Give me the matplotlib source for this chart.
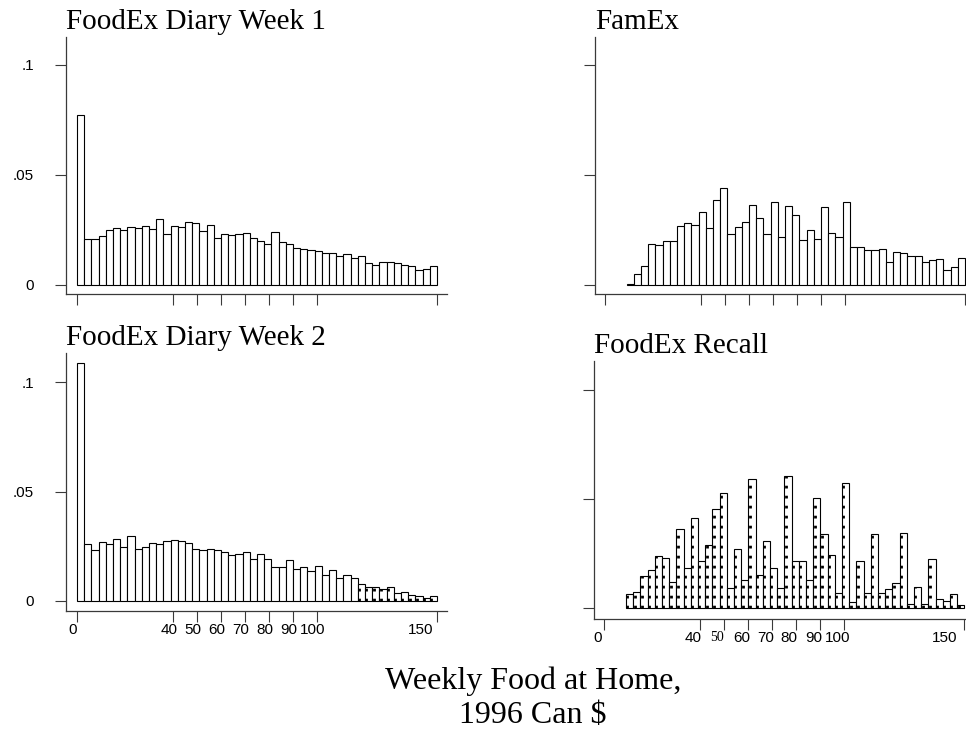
import numpy as np
import matplotlib
matplotlib.use("Agg")
import matplotlib.pyplot as plt
from matplotlib.transforms import ScaledTranslation

# bin width 3 dollars, bars up to 150
bin_width = 3
x_ticks = [0, 40, 50, 60, 70, 80, 90, 100, 150]
x_tick_labels = ["0", "40", "50", "60", "70", "80", "90", "100", "150"]
y_ticks = [0, 0.05, 0.1]
y_tick_labels = ["0", ".05", ".1"]

# FoodEx Diary Week 1 (bins start at 0)
week1_start = 0
week1 = [0.0772, 0.0208, 0.0210, 0.0222, 0.0251, 0.0258, 0.0252, 0.0263, 0.0260, 0.0270,
         0.0255, 0.0302, 0.0231, 0.0267, 0.0263, 0.0286, 0.0281, 0.0246, 0.0272, 0.0214,
         0.0231, 0.0228, 0.0231, 0.0237, 0.0213, 0.0198, 0.0187, 0.0240, 0.0195, 0.0184,
         0.0169, 0.0164, 0.0158, 0.0155, 0.0144, 0.0144, 0.0131, 0.0140, 0.0123, 0.0131,
         0.0102, 0.0093, 0.0103, 0.0106, 0.0099, 0.0093, 0.0084, 0.0068, 0.0074, 0.0084]

# FamEx (bins start at 9)
famex_start = 9
famex = [0.0003, 0.0050, 0.0085, 0.0185, 0.0180, 0.0198, 0.0198, 0.0268, 0.0280, 0.0274,
         0.0330, 0.0260, 0.0385, 0.0440, 0.0230, 0.0262, 0.0285, 0.0365, 0.0303, 0.0230,
         0.0376, 0.0217, 0.0360, 0.0317, 0.0206, 0.0252, 0.0208, 0.0356, 0.0238, 0.0217,
         0.0379, 0.0171, 0.0174, 0.0159, 0.0159, 0.0162, 0.0106, 0.0148, 0.0145, 0.0130,
         0.0132, 0.0103, 0.0115, 0.0117, 0.0067, 0.0083, 0.0121]

# FoodEx Diary Week 2 (bins start at 0), dotted from 117 on
week2_start = 0
week2_dotted_from = 117
week2 = [0.1087, 0.0261, 0.0232, 0.0271, 0.0259, 0.0285, 0.0248, 0.0299, 0.0236, 0.0248,
         0.0267, 0.0262, 0.0274, 0.0280, 0.0273, 0.0267, 0.0236, 0.0233, 0.0236, 0.0235,
         0.0224, 0.0212, 0.0216, 0.0223, 0.0190, 0.0213, 0.0190, 0.0154, 0.0154, 0.0187,
         0.0148, 0.0154, 0.0136, 0.0159, 0.0119, 0.0142, 0.0104, 0.0117, 0.0104, 0.0076,
         0.0062, 0.0062, 0.0053, 0.0064, 0.0037, 0.0041, 0.0026, 0.0021, 0.0015, 0.0023]

# FoodEx Recall (bins start at 9), all dotted
recall_start = 9
recall = [0.0064, 0.0076, 0.0146, 0.0174, 0.0238, 0.0229, 0.0122, 0.0361, 0.0184, 0.0415,
          0.0215, 0.0288, 0.0454, 0.0526, 0.0095, 0.0271, 0.0128, 0.0590, 0.0151, 0.0308,
          0.0184, 0.0091, 0.0605, 0.0218, 0.0215, 0.0128, 0.0503, 0.0338, 0.0244, 0.0070,
          0.0572, 0.0030, 0.0216, 0.0069, 0.0338, 0.0070, 0.0088, 0.0116, 0.0343, 0.0018,
          0.0096, 0.0018, 0.0227, 0.0043, 0.0035, 0.0064, 0.0015]

W, H = 966, 734
fig = plt.figure(figsize=(W / 100, H / 100), dpi=100)

axis_col = "#3a3a3a"


def make_axes(left, right, top, bottom, xlim, ylim):
    ax = fig.add_axes([left / W, 1 - bottom / H, (right - left) / W, (bottom - top) / H])
    ax.set_xlim(*xlim)
    ax.set_ylim(*ylim)
    ax.spines["top"].set_visible(False)
    ax.spines["right"].set_visible(False)
    for s in ("left", "bottom"):
        ax.spines[s].set_color(axis_col)
        ax.spines[s].set_linewidth(0.9)
    ax.tick_params(direction="out", length=8, width=0.8, color=axis_col)
    ax.set_xticks(x_ticks)
    ax.set_yticks(y_ticks)
    return ax


def draw_hist(ax, start, vals, dotted_from=None):
    vals = np.array(vals)
    lefts = start + bin_width * np.arange(len(vals))
    ax.bar(lefts, vals, width=bin_width, align="edge", color="white",
           edgecolor="black", linewidth=0.8, zorder=2)
    if dotted_from is not None:
        # dotted column just inside the left edge of each bar
        m = lefts >= dotted_from
        ax.vlines(lefts[m] + 0.6, 0, vals[m], colors="black", linewidth=2,
                  linestyles=[(0, (1, 2.6))], zorder=3)


def title(ax, txt):
    ax.set_title(txt, loc="left", fontfamily="Liberation Serif", fontsize=21, pad=6)


def y_labels(ax):
    ax.set_yticklabels(y_tick_labels, fontfamily="Liberation Sans", fontsize=11)
    ax.tick_params(axis="y", pad=15)


def x_labels(ax, shift_px, serif50=False):
    ax.set_xticklabels(x_tick_labels, fontfamily="Liberation Sans", fontsize=11)
    ax.tick_params(axis="x", pad=0.5)
    off = ScaledTranslation(shift_px / 100, 0, fig.dpi_scale_trans)
    for lab in ax.get_xticklabels():
        lab.set_transform(lab.get_transform() + off)
        if lab.get_text() == "150":
            lab.set_ha("right")
        if serif50 and lab.get_text() == "50":
            lab.set_fontfamily("Liberation Serif")
            lab.set_fontsize(10)


# top left
ax1 = make_axes(66, 447, 37, 294, (-4.6, 154.2), (-0.0041, 0.1127))
draw_hist(ax1, week1_start, week1)
title(ax1, "FoodEx Diary Week 1")
y_labels(ax1)
ax1.set_xticklabels([])

# top right
ax2 = make_axes(595, 966, 37, 294, (-4.2, 150.4), (-0.0041, 0.1127))
draw_hist(ax2, famex_start, famex)
title(ax2, "FamEx")
ax2.set_yticklabels([])
ax2.set_xticklabels([])

# bottom left
ax3 = make_axes(66, 447, 353, 611, (-4.6, 154.2), (-0.0046, 0.1134))
draw_hist(ax3, week2_start, week2, dotted_from=week2_dotted_from)
title(ax3, "FoodEx Diary Week 2")
y_labels(ax3)
x_labels(ax3, -4)

# bottom right
ax4 = make_axes(594, 966, 361, 619, (-4.3, 150.7), (-0.0049, 0.1131))
draw_hist(ax4, recall_start, recall, dotted_from=recall_start)
title(ax4, "FoodEx Recall")
ax4.set_yticklabels([])
x_labels(ax4, -7, serif50=True)

fig.text(533 / W, 1 - 667 / H, "Weekly Food at Home,\n1996 Can $", ha="center", va="top",
         fontfamily="Liberation Serif", fontsize=23, linespacing=1.2)

fig.savefig("out.png", dpi=100)
